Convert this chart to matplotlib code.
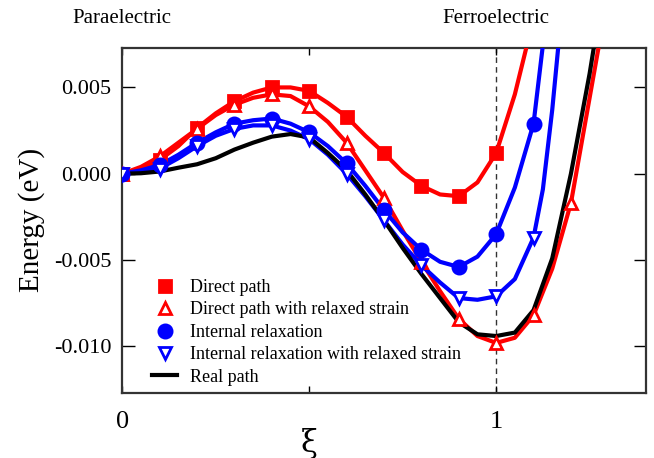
import numpy as np
import matplotlib
matplotlib.use("Agg")
import matplotlib.pyplot as plt
from matplotlib.lines import Line2D
from matplotlib.ticker import FuncFormatter

plt.rcParams['font.family'] = ['Liberation Serif', 'DejaVu Serif']
plt.rcParams['axes.unicode_minus'] = False

# energies (eV) along the path xi
xi_direct = [0, 0.05, 0.1, 0.15, 0.2, 0.25, 0.3, 0.35, 0.4, 0.45, 0.5, 0.55, 0.6,
             0.65, 0.7, 0.75, 0.8, 0.85, 0.9, 0.95, 1.0, 1.05, 1.1]
e_direct = [0, 0.0002, 0.0008, 0.0016, 0.00265, 0.0035, 0.0042, 0.0047, 0.0050,
            0.0050, 0.0048, 0.0041, 0.0033, 0.0022, 0.0012, 0.0001, -0.0007,
            -0.0012, -0.0013, -0.0005, 0.0012, 0.0046, 0.0090]

xi_direct_rs = [0, 0.05, 0.1, 0.15, 0.2, 0.25, 0.3, 0.35, 0.4, 0.45, 0.5, 0.55, 0.6,
                0.65, 0.7, 0.75, 0.8, 0.85, 0.9, 0.95, 1.0, 1.05, 1.1, 1.15, 1.2,
                1.25, 1.3]
e_direct_rs = [0, 0.0004, 0.0010, 0.0018, 0.0026, 0.0034, 0.0040, 0.0044, 0.0046,
               0.0045, 0.0039, 0.0030, 0.0018, 0.0002, -0.0014, -0.0033, -0.0051,
               -0.0068, -0.0084, -0.0094, -0.0098, -0.0095, -0.0082, -0.0055,
               -0.0017, 0.0044, 0.0105]

xi_internal = [0, 0.05, 0.1, 0.15, 0.2, 0.25, 0.3, 0.35, 0.4, 0.45, 0.5, 0.55, 0.6,
               0.65, 0.7, 0.75, 0.8, 0.85, 0.9, 0.95, 1.0, 1.05, 1.1, 1.15]
e_internal = [0, 0.0002, 0.0005, 0.0011, 0.0018, 0.0024, 0.0029, 0.0031, 0.0032,
              0.0029, 0.0024, 0.0016, 0.0006, -0.0007, -0.0021, -0.0034, -0.0044,
              -0.0051, -0.0054, -0.0048, -0.0035, -0.0008, 0.0029, 0.0120]

xi_internal_rs = [0, 0.05, 0.1, 0.15, 0.2, 0.25, 0.3, 0.35, 0.4, 0.45, 0.5, 0.55, 0.6,
                  0.65, 0.7, 0.75, 0.8, 0.85, 0.9, 0.95, 1.0, 1.05, 1.1, 1.125,
                  1.15, 1.2]
e_internal_rs = [0, 0.0001, 0.0003, 0.0009, 0.0016, 0.0022, 0.0026, 0.0028, 0.0028,
                 0.0025, 0.0020, 0.0011, 0.0000, -0.0013, -0.0027, -0.0041, -0.0053,
                 -0.0063, -0.0072, -0.0073, -0.0071, -0.0061, -0.0037, -0.0009,
                 0.0037, 0.0150]

xi_real = [0, 0.05, 0.1, 0.15, 0.2, 0.25, 0.3, 0.35, 0.4, 0.45, 0.5, 0.55, 0.6,
           0.65, 0.7, 0.75, 0.8, 0.85, 0.9, 0.95, 1.0, 1.05, 1.1, 1.15, 1.2, 1.25, 1.3]
e_real = [0, 0.00003, 0.00013, 0.00035, 0.00055, 0.0009, 0.0014, 0.0018, 0.00215,
          0.0023, 0.0021, 0.0012, 0.0002, -0.0012, -0.0027, -0.0043, -0.0058,
          -0.0072, -0.0086, -0.0093, -0.0094, -0.0092, -0.0079, -0.0049, 0.0000,
          0.0058, 0.0125]

labels = ["Direct path", "Direct path with relaxed strain", "Internal relaxation",
          "Internal relaxation with relaxed strain", "Real path"]

fig = plt.figure(figsize=(6.54, 4.58), dpi=100)
ax = fig.add_axes([0.187, 0.1419, 0.8003, 0.7539])


def on_grid(x):
    x = np.asarray(x)
    return np.isclose(np.round(x * 10), x * 10)


series = [
    (xi_direct, e_direct, 'red', 's', 'red', 8.5),
    (xi_direct_rs, e_direct_rs, 'red', '^', 'white', 9),
    (xi_internal, e_internal, 'blue', 'o', 'blue', 9.5),
    (xi_internal_rs, e_internal_rs, 'blue', 'v', 'white', 9),
]
handles = []
for x, y, c, m, fc, ms in series:
    x = np.asarray(x)
    y = np.asarray(y)
    ax.plot(x, y, color=c, lw=3, solid_joinstyle='round', zorder=3)
    k = on_grid(x)
    ax.plot(x[k], y[k], ls='none', marker=m, ms=ms, mfc=fc, mec=c, mew=2, zorder=4)
    handles.append(Line2D([], [], ls='none', marker=m, ms=ms, mfc=fc, mec=c, mew=2))

ax.plot(xi_real, e_real, color='black', lw=3, solid_joinstyle='round', zorder=3)
handles.append(Line2D([], [], color='black', lw=3))

ax.axvline(1.0, color='#333333', lw=1, ls=(0, (4, 3)), zorder=1)

ax.set_xlim(0, 1.4)
ax.set_ylim(-0.0127, 0.0073)
ax.set_xticks([0, 0.5, 1.0])
ax.set_xticklabels(['0', '', '1'], fontsize=19)
ax.set_yticks([-0.010, -0.005, 0.0, 0.005])
ax.yaxis.set_major_formatter(FuncFormatter(lambda v, p: f"{v:.3f}" if abs(v) > 1e-9 else "0.000"))
ax.tick_params(axis='y', direction='in', length=9, width=1, labelsize=16, pad=8,
               right=True)
ax.tick_params(axis='x', direction='in', length=5, width=1, pad=13, top=True)
for s in ax.spines.values():
    s.set_linewidth(1.6)
    s.set_color('#333333')

ax.set_ylabel("Energy (eV)", fontsize=21, labelpad=6)
ax.set_xlabel("ξ", fontsize=22, family='DejaVu Serif')
ax.xaxis.set_label_coords(0.5 / 1.4, -0.10)

trans = ax.get_xaxis_transform()
ax.text(0.0, 1.086, "Paraelectric", transform=trans, ha='center', va='center',
        fontsize=15, clip_on=False)
ax.text(1.0, 1.086, "Ferroelectric", transform=trans, ha='center', va='center',
        fontsize=15, clip_on=False)

ax.legend(handles, labels, loc='upper left', bbox_to_anchor=(0.0567, 0.33),
          frameon=False, fontsize=13, labelspacing=0.3, handlelength=1.4,
          handletextpad=0.7, borderpad=0, borderaxespad=0)

fig.savefig("out.png", dpi=100)
